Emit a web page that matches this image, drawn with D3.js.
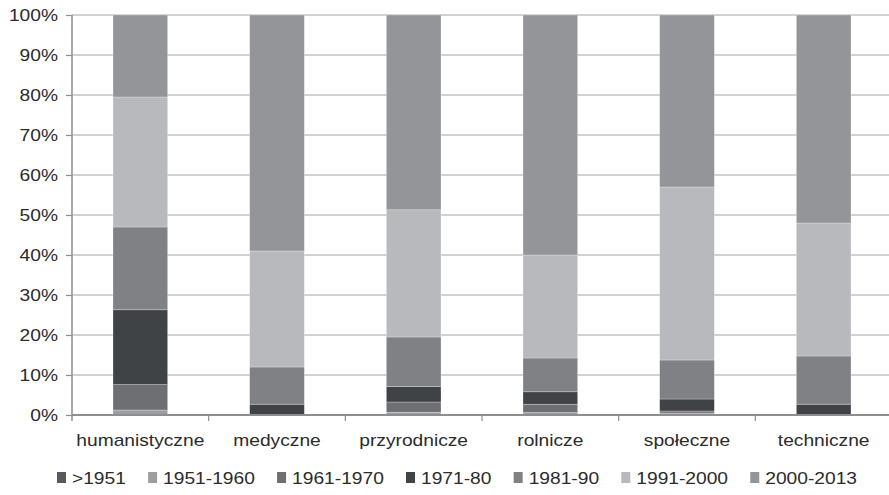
<!DOCTYPE html>
<html><head><meta charset="utf-8">
<script src="https://cdn.jsdelivr.net/npm/d3@7"></script>
<style>
html,body{margin:0;padding:0;background:#fff;}
svg text{font-family:"Liberation Sans",Arial,sans-serif;fill:#2b2b2b;}
</style></head>
<body><svg id="c" width="889" height="495"></svg>
<script>
const categories = ["humanistyczne","medyczne","przyrodnicze","rolnicze","społeczne","techniczne"];
const seriesNames = [">1951","1951-1960","1961-1970","1971-80","1981-90","1991-2000","2000-2013"];
const sLt1951   = [0, 0, 0, 0, 0, 0];
const s1951_60  = [1.25, 0, 0.7, 0.6, 0.5, 0];
const s1961_70  = [6.35, 0, 2.55, 2.1, 0.5, 0];
const s1971_80  = [18.7, 2.7, 3.85, 3.1, 3.0, 2.7];
const s1981_90  = [20.7, 9.3, 12.4, 8.45, 9.75, 12.05];
const s1991_00  = [32.5, 29.0, 31.8, 25.75, 43.25, 33.25];
const s2000_13  = [20.5, 59.0, 48.7, 60.0, 43.0, 52.0];
const yTicks = [0,10,20,30,40,50,60,70,80,90,100];
const colors = ["#58595c","#9d9ea1","#6e6f72","#404346","#7f8184","#b8b9bc","#939598"];

const seriesVals = [sLt1951,s1951_60,s1961_70,s1971_80,s1981_90,s1991_00,s2000_13];
const rows = categories.map((c,i)=>{const o={cat:c}; seriesNames.forEach((s,j)=>o[s]=seriesVals[j][i]); return o;});
const stack = d3.stack().keys(seriesNames)(rows);

const svg = d3.select("#c");
const L=72, R=892, T=15, B=415;
const SX=1.2;
const x = d3.scaleBand().domain(categories).range([L,R]).paddingInner(0.6).paddingOuter(0.3);
const xb = d3.scaleBand().domain(categories).range([L,R]).padding(0);
const y = d3.scaleLinear().domain([0,100]).range([B,T]);

// gridlines
svg.append("g").selectAll("line").data(yTicks.filter(d=>d>0)).join("line")
  .attr("x1",L).attr("x2",889).attr("y1",d=>y(d)).attr("y2",d=>y(d))
  .attr("stroke","#a3a3a6").attr("stroke-width",1.2);

// bars
svg.append("g").selectAll("g").data(stack).join("g").attr("fill",(d,i)=>colors[i])
  .selectAll("rect").data(d=>d).join("rect")
  .attr("x",d=>x(d.data.cat)).attr("width",x.bandwidth())
  .attr("y",d=>y(d[1])).attr("height",d=>Math.max(0,y(d[0])-y(d[1])))
  .attr("stroke","rgba(255,255,255,0.45)").attr("stroke-width",0.6);

// y axis
const ya = svg.append("g").attr("transform",`translate(${L},0)`)
  .call(d3.axisLeft(y).tickValues(yTicks).tickSize(6).tickPadding(0).tickFormat(d=>d+"%"));
ya.select(".domain").remove();
svg.append("line").attr("x1",L).attr("x2",L).attr("y1",T).attr("y2",B+6)
  .attr("stroke","#8e8e92").attr("stroke-width",1.5);
ya.selectAll(".tick line").attr("stroke","#8e8e92").attr("stroke-width",1.2);
ya.selectAll(".tick text").attr("x",0).attr("dy","0.35em")
  .attr("transform",`translate(-14,0) scale(${SX},1)`).style("font-size","16px");

// x axis
const xa = svg.append("g").attr("transform",`translate(0,${B})`)
  .call(d3.axisBottom(xb).tickSize(0).tickPadding(0));
xa.select(".domain").remove();
xa.selectAll(".tick text").attr("y",0).attr("dy",0)
  .attr("transform",`translate(0,31) scale(${SX},1)`).style("font-size","16px");
svg.append("line").attr("x1",L).attr("x2",889).attr("y1",B).attr("y2",B)
  .attr("stroke","#8e8e92").attr("stroke-width",2);
svg.append("g").selectAll("line").data(categories).join("line")
  .attr("x1",d=>xb(d)+xb.bandwidth()).attr("x2",d=>xb(d)+xb.bandwidth())
  .attr("y1",B).attr("y2",B+6).attr("stroke","#8e8e92").attr("stroke-width",1.2);

// legend: laid out from measured text widths between x=57 and x=857
const legStart=57, legEnd=857, sqToText=15;
const lg = svg.append("g").selectAll("g").data(seriesNames).join("g");
lg.append("rect").attr("x",0).attr("y",-6).attr("width",9).attr("height",11).attr("fill",(d,i)=>colors[i]);
const lt = lg.append("text").attr("transform",`translate(${sqToText},0) scale(${SX},1)`).attr("dy","0.35em")
  .style("font-size","16px").text(d=>d);
const widths = lt.nodes().map(n=>n.getComputedTextLength()*SX + sqToText);
const total = d3.sum(widths);
const gap = (legEnd-legStart-total)/(seriesNames.length-1);
let cx = legStart;
const legX = widths.map(w=>{const p=cx; cx+=w+gap; return p;});
lg.attr("transform",(d,i)=>`translate(${legX[i]},478)`);
</script></body></html>
